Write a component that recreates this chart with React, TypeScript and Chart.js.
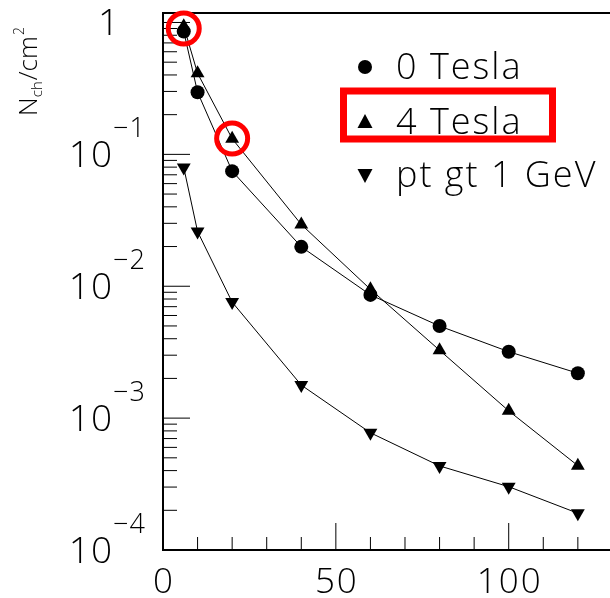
import React, { useEffect, useRef } from 'react';
import { Chart, registerables } from 'chart.js';

Chart.register(...registerables);

// ---- data ----
const xValues = [6, 10, 20, 40, 60, 80, 100, 120];
const tesla0 = [0.855, 0.296, 0.0746, 0.0199, 0.0086, 0.00499, 0.00319, 0.00219];
const tesla4 = [0.936, 0.412, 0.1315, 0.0294, 0.00948, 0.00327, 0.001135, 0.000436];
const ptGt1 = [0.0796, 0.026, 0.00758, 0.00178, 0.000774, 0.000434, 0.000302, 0.00019];

const seriesLabels = ['0 Tesla', '4 Tesla', 'pt gt 1 GeV'];

const xTickValues = [0, 50, 100];
const xTickLabels = ['0', '50', '100'];
const yTickValues = [1, 0.1, 0.01, 0.001, 0.0001];
const yTickBases = ['1', '10', '10', '10', '10'];
const yTickExps = ['', '\u22121', '\u22122', '\u22123', '\u22124'];

// highlighted points (x, y in data units)
const highlightX = [6, 20];
const highlightY = [0.9, 0.132];

const X_MIN = 0;
const X_MAX = 129.3;
const Y_MIN = 0.0001;
const Y_MAX = 1.18;

const FONT = '"Open Sans", Lato, "Liberation Sans", sans-serif';

function toPoints(ys: number[]) {
  return xValues.map((x, i) => ({ x, y: ys[i] }));
}

const overlayPlugin = {
  id: 'rootStyle',
  afterDraw(chart: any) {
    const ctx: any = chart.ctx;
    const xs = chart.scales.x;
    const ys = chart.scales.y;
    const { left, top, right, bottom } = chart.chartArea;
    ctx.save();

    // frame / axes
    ctx.strokeStyle = '#000';
    ctx.lineWidth = 2;
    ctx.beginPath();
    ctx.moveTo(right, top);
    ctx.lineTo(left, top);
    ctx.lineTo(left, bottom);
    ctx.lineTo(right, bottom);
    ctx.stroke();

    // y ticks (log)
    ctx.lineWidth = 1;
    ctx.beginPath();
    for (let e = -4; e <= 0; e++) {
      for (let m = 1; m <= 9; m++) {
        const v = m * Math.pow(10, e);
        if (v < Y_MIN * 0.999 || v > Y_MAX) continue;
        const y = ys.getPixelForValue(v);
        const len = m === 1 ? 27 : 14;
        ctx.moveTo(left, y);
        ctx.lineTo(left + len, y);
      }
    }
    // x ticks
    for (let v = 10; v <= X_MAX; v += 10) {
      const x = xs.getPixelForValue(v);
      const len = v % 50 === 0 ? 27 : 13;
      ctx.moveTo(x, bottom);
      ctx.lineTo(x, bottom - len);
    }
    ctx.stroke();

    // y tick labels
    ctx.fillStyle = '#000';
    ctx.textBaseline = 'alphabetic';
    ctx.letterSpacing = '1px';
    yTickValues.forEach((v, i) => {
      const y = ys.getPixelForValue(v);
      ctx.font = `300 37px ${FONT}`;
      ctx.textAlign = 'right';
      ctx.fillText(yTickBases[i], yTickExps[i] ? 113 : 120, y + 13);
      if (yTickExps[i]) {
        ctx.font = `300 27px ${FONT}`;
        ctx.textAlign = 'left';
        ctx.fillText(yTickExps[i], 113, y - 17);
      }
    });

    // x tick labels
    ctx.font = `300 35px ${FONT}`;
    ctx.textAlign = 'left';
    ctx.letterSpacing = '2px';
    xTickValues.forEach((v, i) => {
      const w = ctx.measureText(xTickLabels[i]).width - 2;
      ctx.fillText(xTickLabels[i], xs.getPixelForValue(v) - w / 2, 593);
    });
    ctx.letterSpacing = '0px';

    // y title: N_ch / cm^2 (rotated)
    ctx.save();
    ctx.translate(37, 116);
    ctx.rotate(-Math.PI / 2);
    ctx.textAlign = 'left';
    let u = 0;
    const part = (t: string, size: number, dy: number) => {
      ctx.font = `300 ${size}px ${FONT}`;
      ctx.fillText(t, u, dy);
      u += ctx.measureText(t).width;
    };
    part('N', 26, 0);
    part('ch', 15, 5);
    u += 1;
    part('/', 26, 0);
    part('cm', 26, 0);
    u += 1;
    part('2', 14, -13);
    ctx.restore();

    // legend
    const rowsY = [67, 122, 175];
    const styles = ['circle', 'up', 'down'];
    ctx.letterSpacing = '2px';
    rowsY.forEach((ry, i) => {
      const mx = 365;
      ctx.fillStyle = '#000';
      ctx.beginPath();
      if (styles[i] === 'circle') {
        ctx.arc(mx, ry, 7, 0, Math.PI * 2);
      } else if (styles[i] === 'up') {
        ctx.moveTo(mx, ry - 8);
        ctx.lineTo(mx + 7.5, ry + 6);
        ctx.lineTo(mx - 7.5, ry + 6);
        ctx.closePath();
      } else {
        ctx.moveTo(mx, ry + 8);
        ctx.lineTo(mx + 7.5, ry - 6);
        ctx.lineTo(mx - 7.5, ry - 6);
        ctx.closePath();
      }
      ctx.fill();
      ctx.font = `300 36px ${FONT}`;
      ctx.textAlign = 'left';
      ctx.fillText(seriesLabels[i], 396, ry + 12);
    });
    ctx.letterSpacing = '0px';

    // red annotations
    ctx.strokeStyle = '#ff0000';
    ctx.lineWidth = 5;
    highlightX.forEach((hx, i) => {
      const cx = xs.getPixelForValue(hx);
      const cy = ys.getPixelForValue(highlightY[i]);
      ctx.beginPath();
      ctx.arc(cx, cy, 15.5, 0, Math.PI * 2);
      ctx.stroke();
    });
    ctx.lineWidth = 7;
    ctx.strokeRect(343.5, 91, 209, 48);

    ctx.restore();
  },
};

export default function App() {
  const ref = useRef<HTMLCanvasElement | null>(null);
  useEffect(() => {
    if (!ref.current) return;
    const common = {
      borderColor: '#000',
      borderWidth: 1,
      backgroundColor: '#000',
      pointBackgroundColor: '#000',
      pointBorderColor: '#000',
      pointBorderWidth: 0,
      tension: 0,
      fill: false,
    };
    const chart = new Chart(ref.current, {
      type: 'line',
      data: {
        datasets: [
          { ...common, label: seriesLabels[0], data: toPoints(tesla0), pointStyle: 'circle', pointRadius: 7 },
          { ...common, label: seriesLabels[1], data: toPoints(tesla4), pointStyle: 'triangle', pointRadius: 8 },
          { ...common, label: seriesLabels[2], data: toPoints(ptGt1), pointStyle: 'triangle', pointRadius: 8, pointRotation: 180 },
        ] as any,
      },
      options: {
        animation: false,
        responsive: false,
        maintainAspectRatio: false,
        devicePixelRatio: 1,
        layout: { autoPadding: false, padding: { left: 163, top: 13, right: 0, bottom: 48 } },
        plugins: { legend: { display: false }, tooltip: { enabled: false } },
        scales: {
          x: { type: 'linear', min: X_MIN, max: X_MAX, display: false },
          y: { type: 'logarithmic', min: Y_MIN, max: Y_MAX, display: false },
        },
      } as any,
      plugins: [overlayPlugin],
    });
    return () => chart.destroy();
  }, []);
  return (
    <div style={{ position: 'fixed', left: 0, top: 0, width: 610, height: 598, background: '#fff' }}>
      <canvas ref={ref} width={610} height={598} style={{ display: 'block' }} />
    </div>
  );
}
